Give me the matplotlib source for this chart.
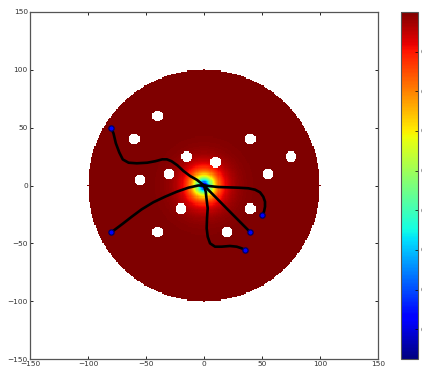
import numpy as np
import matplotlib
matplotlib.use("Agg")
import matplotlib.pyplot as plt

# ---- data ----
goal_x, goal_y = 0.0, 0.0
domain_radius = 100.0
field_scale = 7.5
obstacle_x = [-40, -60, 40, -15, 10, 75, -30, 55, -55, -20, 40, -40, 20]
obstacle_y = [60, 40, 40, 25, 20, 25, 10, 10, 5, -20, -20, -40, -40]
obstacle_r = 4.5

path1_x = [-80, -78, -76, -73, -70, -65, -58, -49, -42, -36, -32, -28, -23, -18, -12, -6, 0]
path1_y = [50, 45, 36.5, 28.5, 22.5, 19.7, 19.2, 19.7, 21, 22.6, 22.6, 21, 17.5, 12.8, 8.2, 4.8, 0]

path2_x = [-80, -75.3, -69.6, -62.3, -53.7, -43.7, -33.6, -23.5, -13.5, -5, 0]
path2_y = [-40.5, -37, -32.7, -27, -20.6, -14.5, -9.7, -5.4, -1.9, 0, 0]

path3_x = [50, 51.7, 52.6, 52.6, 51.1, 48.3, 44, 38.2, 29.6, 20.9, 12.3, 6.6, 0]
path3_y = [-25.5, -22.7, -18.3, -14, -9.7, -5.9, -3.6, -2.4, -1.9, -1.6, -1.3, -0.7, 0]

path4_x = [40, 30, 20, 10, 0]
path4_y = [-40.5, -30.4, -20.3, -10.1, 0]

path5_x = [35.3, 32.5, 28.2, 22.4, 15.2, 9.5, 5.2, 3.2, 2.3, 2.6, 3.2, 2.3, 1.5, 0]
path5_y = [-55.8, -54.3, -52.9, -52.3, -52.9, -52.9, -50, -44.3, -37, -28.4, -19.7, -12.5, -5.4, 0]

paths = [(path1_x, path1_y), (path2_x, path2_y), (path3_x, path3_y),
         (path4_x, path4_y), (path5_x, path5_y)]

cbar_ticks = [0.0, 0.1, 0.2, 0.3, 0.4, 0.5, 0.6, 0.7, 0.8, 0.9, 1.0]
axis_ticks = [-150, -100, -50, 0, 50, 100, 150]

# ---- field on grid ----
g = np.arange(-150, 151, 1.0)
X, Y = np.meshgrid(g, g)
R = np.hypot(X - goal_x, Y - goal_y)
F = 1.0 - np.exp(-R / field_scale)
F[np.hypot(X, Y) > domain_radius] = np.nan
for ox, oy in zip(obstacle_x, obstacle_y):
    F[np.hypot(X - ox, Y - oy) <= obstacle_r] = np.nan
F[R < 0.5] = np.nan

# ---- figure ----
fig = plt.figure(figsize=(4.22, 3.69), dpi=100)
ax = fig.add_axes([30 / 422, 10 / 369, 348 / 422, 347 / 369])
cax = fig.add_axes([400.5 / 422, 10 / 369, 17.8 / 422, 347 / 369])

im = ax.imshow(F, cmap="jet", origin="lower", interpolation="nearest",
               extent=[g[0] - 0.5, g[-1] + 0.5, g[0] - 0.5, g[-1] + 0.5])

for px, py in paths:
    ax.plot(px, py, color="black", lw=1.9, solid_capstyle="round",
            solid_joinstyle="round", zorder=3)
    ax.plot(px[0], py[0], "o", ms=3.8, mfc="blue", mec="#000060", mew=0.9, zorder=4)

ax.set_xlim(-150, 150)
ax.set_ylim(-150, 150)
ax.set_aspect("auto")
ax.set_xticks(axis_ticks)
ax.set_yticks(axis_ticks)
ax.tick_params(direction="in", length=2.5, width=0.6, labelsize=5.3,
               top=True, right=True, pad=1.5, colors="black", labelcolor="#333333")
for s in ax.spines.values():
    s.set_linewidth(0.9)
    s.set_color("#555555")

cb = fig.colorbar(im, cax=cax, ticks=cbar_ticks)
cb.ax.yaxis.set_major_formatter(matplotlib.ticker.FormatStrFormatter("%.1f"))
cb.ax.tick_params(direction="in", length=2.5, width=0.5, labelsize=5.3, pad=1.5,
                  labelcolor="#333333")
cb.outline.set_linewidth(0.8)
cb.outline.set_edgecolor("#555555")

fig.savefig("out.png", dpi=100)
